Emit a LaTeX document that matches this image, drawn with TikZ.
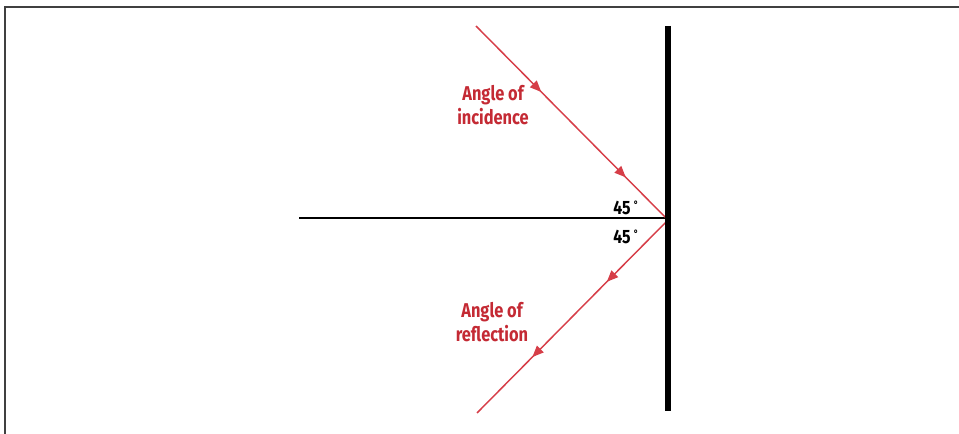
\documentclass[tikz,border=0pt]{standalone}
\usepackage{fontspec}
\setmainfont{Fira Sans}[FakeStretch=0.82]
\usetikzlibrary{decorations.markings,arrows.meta}
\definecolor{rayred}{RGB}{214,62,72}
\definecolor{txtred}{RGB}{196,42,52}
\tikzset{
  ray/.style={draw=rayred,line width=1.1pt},
  midarrows/.style 2 args={postaction={decorate,decoration={markings,
     mark=at position #1 with {\arrow{Triangle[length=8.5pt,width=7pt]}},
     mark=at position #2 with {\arrow{Triangle[length=8.5pt,width=7pt]}}}}},
  lbl/.style={text=txtred,font=\fontsize{15}{18}\selectfont\bfseries,align=center,inner sep=0pt},
  deg/.style={font=\fontsize{14.5}{16}\selectfont\bfseries,inner sep=0pt,anchor=west}
}
\begin{document}
\begin{tikzpicture}[x=0.75pt,y=-0.75pt]
\useasboundingbox (0,0) rectangle (959,434);
% frame
\draw[line width=1.2pt,draw=black!75] (5,434) -- (5,7) -- (959,7);
% coordinates
\coordinate (mt) at (668,26);
\coordinate (mb) at (668,411);
\coordinate (P) at (668,220);
\coordinate (H) at (299,218);
\coordinate (Hr) at (668,218);
\coordinate (A) at (476,26);
\coordinate (B) at (477,413);
% horizontal line
\draw[line width=1.1pt] (H) -- (Hr);
% rays
\draw[ray,midarrows={0.34}{0.78}] (A) -- (P);
\draw[ray,midarrows={0.32}{0.71}] (P) -- (B);
% mirror
\draw[line width=3.8pt] (mt) -- (mb);
% labels
\node[lbl] (inc) at (493,105) {Angle of\\incidence};
\node[lbl] (ref) at (492,322) {Angle of\\reflection};
\node[deg] (d1) at (613,208) {45\,\raisebox{0.6ex}{\footnotesize\textdegree}};
\node[deg] (d2) at (613,237) {45\,\raisebox{0.6ex}{\footnotesize\textdegree}};
\end{tikzpicture}
\end{document}
